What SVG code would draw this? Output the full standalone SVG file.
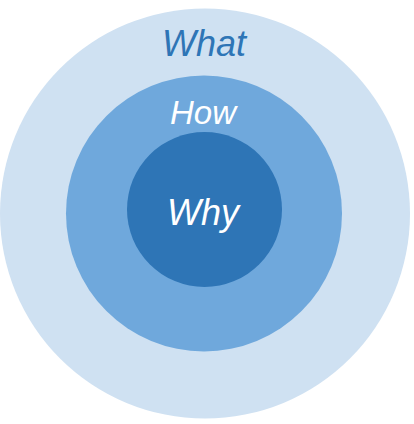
<svg xmlns="http://www.w3.org/2000/svg" width="414" height="424" viewBox="0 0 414 424">
<style>
.lbl{font-family:"Liberation Sans","DejaVu Sans",sans-serif;font-style:italic;text-anchor:middle}
</style>
<rect width="414" height="424" fill="#ffffff"/>
<g id="what">
<circle cx="205" cy="213.5" r="205" fill="#CFE1F2"/>
<text class="lbl" x="204" y="56" font-size="36" fill="#2E75B6">What</text>
</g>
<g id="how">
<circle cx="204" cy="213.5" r="138" fill="#6FA8DC"/>
<text class="lbl" x="203" y="124" font-size="33" fill="#ffffff">How</text>
</g>
<g id="why">
<circle cx="204.5" cy="209.5" r="77.5" fill="#2E75B6"/>
<text class="lbl" x="203" y="225" font-size="36" fill="#ffffff">Why</text>
</g>
<g id="connectors"/>
</svg>
